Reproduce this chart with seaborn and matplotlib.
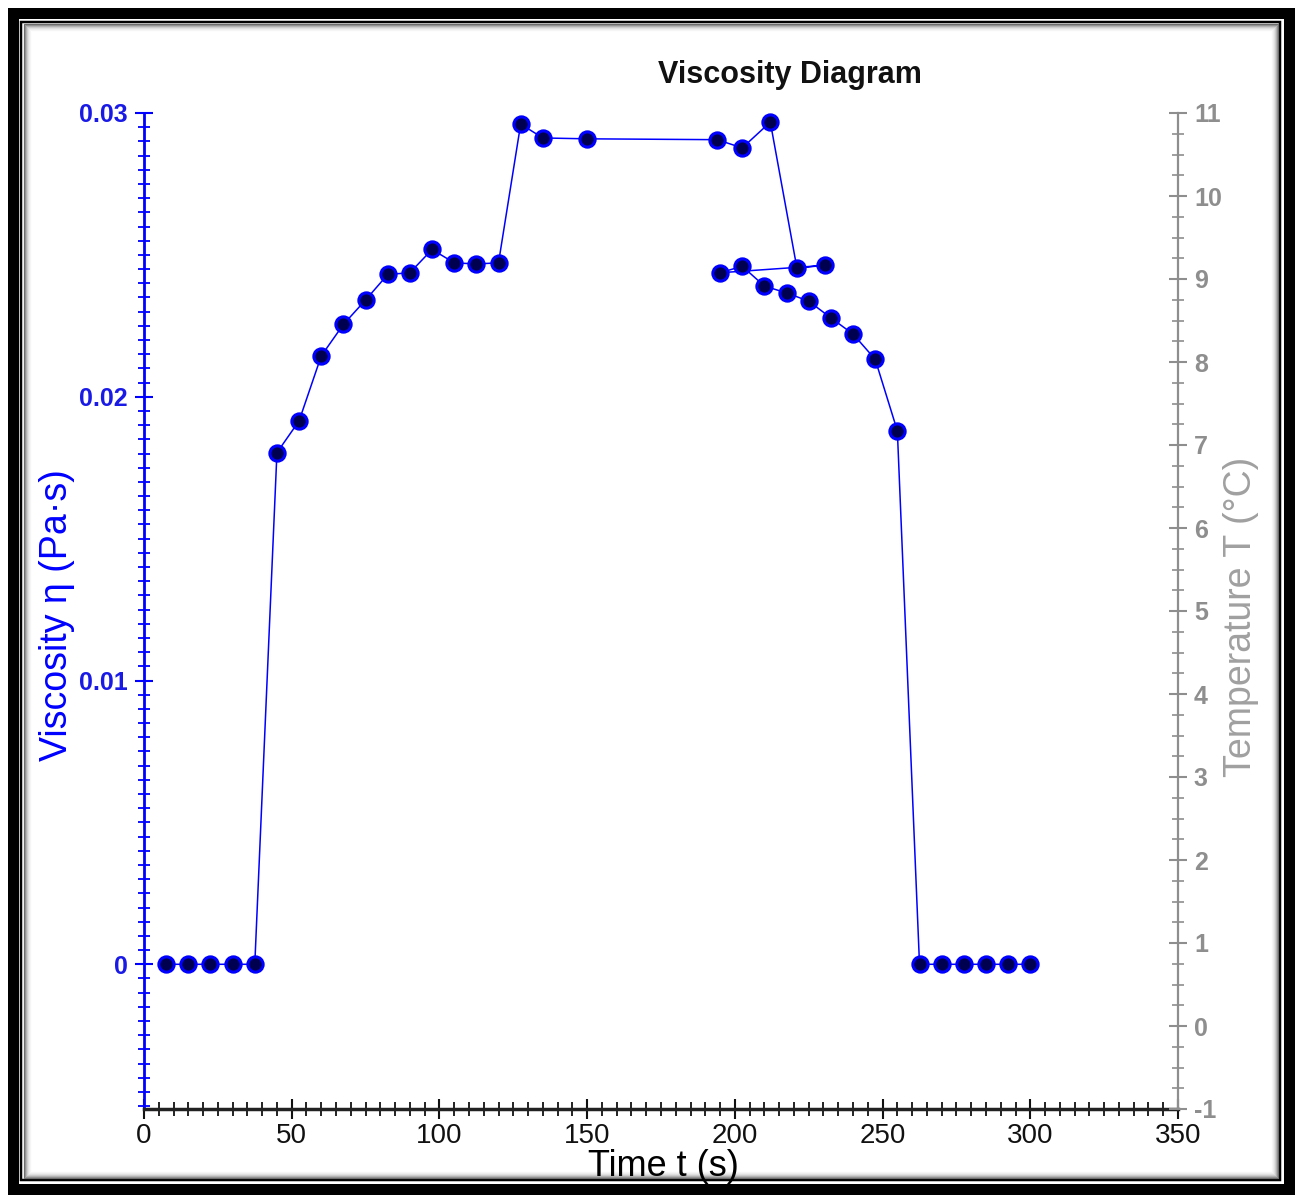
import numpy as np
import seaborn as sns
import matplotlib
matplotlib.use("Agg")
import matplotlib.pyplot as plt
from matplotlib.patches import Rectangle
from matplotlib.ticker import MultipleLocator

# measurement order (not sorted by time)
time_s = [7.5, 15, 22.5, 30, 37.5, 45, 52.5, 60, 67.5, 75, 82.5, 90, 97.5,
          105, 112.5, 120, 127.5, 135, 150, 194, 202.5, 212, 221, 230.5,
          195, 202.5, 210, 217.5, 225, 232.5, 240, 247.5, 255,
          262.5, 270, 277.5, 285, 292.5, 300]
viscosity = [0, 0, 0, 0, 0, 0.01803, 0.01915, 0.02144, 0.02255, 0.02341,
             0.02431, 0.02437, 0.02519, 0.02472, 0.02468, 0.02472,
             0.02961, 0.02912, 0.02909, 0.02906, 0.02877, 0.02968,
             0.02454, 0.02463,
             0.02437, 0.02460, 0.02390, 0.02366, 0.02337, 0.02278,
             0.02221, 0.02132, 0.01880,
             0, 0, 0, 0, 0, 0]

visc_ticks = [0, 0.01, 0.02, 0.03]
visc_labels = ["0", "0.01", "0.02", "0.03"]
temp_ticks = list(range(-1, 12))
time_ticks = [0, 50, 100, 150, 200, 250, 300, 350]

sns.set_theme(style="white")
plt.rcParams["font.family"] = ["Liberation Sans", "DejaVu Sans"]
narrow = ["Liberation Sans Narrow", "Liberation Sans", "DejaVu Sans"]

W, H = 1301, 1201
fig = plt.figure(figsize=(W / 100, H / 100), dpi=100)
ax = fig.add_axes([144 / W, 1 - 1109 / H, (1178 - 144) / W, (1109 - 113) / H])

blue = "#0000ff"
grey = "#8e8e8e"

sns.lineplot(x=time_s, y=viscosity, ax=ax, sort=False, estimator=None,
             color=blue, linewidth=1.1, marker="o", markersize=11,
             markerfacecolor="#000050", markeredgecolor=blue,
             markeredgewidth=2.2)

ax.set_xlim(0, 350)
ax.set_ylim(-0.0051, 0.03)
ax.set_xticks(time_ticks)
ax.set_xticklabels([str(t) for t in time_ticks], family=narrow, fontsize=20,
                   color="#111111")
ax.xaxis.set_minor_locator(MultipleLocator(5))
ax.set_yticks(visc_ticks)
ax.set_yticklabels(visc_labels, family=narrow, fontsize=18,
                   fontweight="bold", color="#1a1ae6")
ax.yaxis.set_minor_locator(MultipleLocator(0.0005))

ax.tick_params(axis="x", which="major", direction="inout", length=14,
               width=1.5, color="#111111", pad=3, bottom=True)
ax.tick_params(axis="x", which="minor", direction="inout", length=10,
               width=1.3, color="#111111", bottom=True)
ax.tick_params(axis="y", which="major", direction="inout", length=13,
               width=1.5, color=blue, pad=5, left=True)
ax.tick_params(axis="y", which="minor", direction="inout", length=8,
               width=1.3, color=blue, left=True)

for s in ["top", "right"]:
    ax.spines[s].set_visible(False)
ax.spines["left"].set_color(blue)
ax.spines["left"].set_linewidth(2)
ax.spines["bottom"].set_color("#222222")
ax.spines["bottom"].set_linewidth(2.5)
ax.set_xlabel("")
ax.set_ylabel("")

ax2 = ax.twinx()
ax2.set_ylim(-1, 11)
ax2.set_yticks(temp_ticks)
ax2.set_yticklabels([str(t) for t in temp_ticks], family=narrow,
                    fontsize=18, fontweight="bold", color=grey)
ax2.yaxis.set_minor_locator(MultipleLocator(0.25))
ax2.tick_params(axis="y", which="major", direction="inout", length=13,
                width=1.5, color=grey, pad=5, right=True)
ax2.tick_params(axis="y", which="minor", direction="inout", length=8,
                width=1.2, color=grey, right=True)
for s in ["top", "left", "bottom"]:
    ax2.spines[s].set_visible(False)
ax2.spines["right"].set_color(grey)
ax2.spines["right"].set_linewidth(1.6)
ax2.grid(False)
ax.grid(False)

fig.text(663 / W, 1 - 1167 / H, "Time t (s)", ha="center", va="center",
         fontsize=26, color="black")
fig.text(57 / W, 1 - 615 / H, "Viscosity η (Pa·s)", rotation=90,
         ha="center", va="center", fontsize=27, color=blue)
fig.text(1241 / W, 1 - 617 / H, "Temperature T (°C)", rotation=90,
         ha="center", va="center", fontsize=27, color="#a0a0a0")
fig.text(790 / W, 1 - 75 / H, "Viscosity Diagram", ha="center",
         va="center", fontsize=22, fontweight="bold", color="#111111")


def frame(inset, lw_px, color):
    fig.patches.append(Rectangle((inset / W, inset / H), (W - 2 * inset) / W,
                                 (H - 2 * inset) / H, fill=False,
                                 linewidth=lw_px * 0.72, edgecolor=color,
                                 transform=fig.transFigure))


frame(12.5, 11, "black")
frame(21.5, 2.5, "black")
for i, g in enumerate(["#6a6a6a", "#8f8f8f", "#b0b0b0", "#cbcbcb",
                       "#dedede", "#ececec", "#f5f5f5"]):
    frame(23.5 + i, 1.2, g)

fig.savefig("out.png", dpi=100, facecolor="white")
